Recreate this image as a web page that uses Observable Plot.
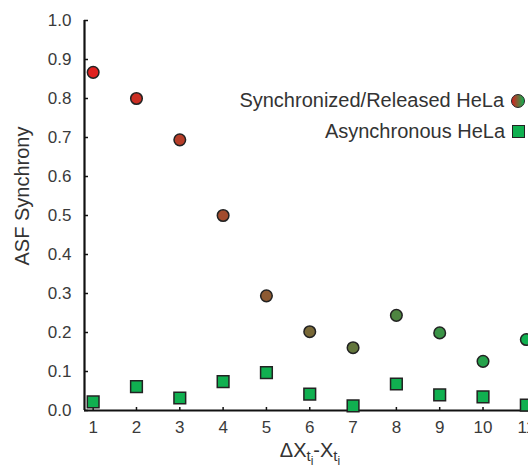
<!DOCTYPE html>
<html>
<head>
<meta charset="utf-8">
<script src="https://cdn.jsdelivr.net/npm/d3@7"></script>
<script src="https://cdn.jsdelivr.net/npm/@observablehq/plot@0.6"></script>
<style>
  html, body { margin: 0; padding: 0; background: #fff; overflow: hidden; }
  #wrap { position: relative; width: 528px; height: 468px; font-family: "Liberation Sans", Arial, sans-serif; }
  #legend { position: absolute; right: 3px; top: 85px; color: #333; font-size: 20px; text-align: right; }
  #legend .row { display: flex; align-items: center; justify-content: flex-end; height: 31px; white-space: nowrap; }
  #legend .sw { display: inline-block; flex-shrink: 0; margin-left: 7px; box-sizing: border-box; border: 1.5px solid #222; }
  #legend .circ { width: 14px; height: 14px; border-radius: 50%; background: linear-gradient(to right, #d8201e, #10b050); }
  #legend .sq { width: 13px; height: 13px; background: #10b050; }
</style>
</head>
<body>
<div id="wrap"></div>
<script>
// ---- data ----
const lags = [1, 2, 3, 4, 5, 6, 7, 8, 9, 10, 11];
const syncValues = [0.867, 0.800, 0.694, 0.500, 0.294, 0.202, 0.161, 0.244, 0.199, 0.126, 0.182];
const asyncValues = [0.022, 0.061, 0.032, 0.074, 0.097, 0.042, 0.012, 0.068, 0.040, 0.035, 0.014];
const yTicks = [0.0, 0.1, 0.2, 0.3, 0.4, 0.5, 0.6, 0.7, 0.8, 0.9, 1.0];
const xTicks = [1, 2, 3, 4, 5, 6, 7, 8, 9, 10, 11];
const seriesNames = ["Synchronized/Released HeLa", "Asynchronous HeLa"];
const yLabel = "ASF Synchrony";

const xDomain = [0.8, 11.05];
const yDomain = [0, 1];

const syncData = lags.map((x, i) => ({x, y: syncValues[i]}));
const asyncData = lags.map((x, i) => ({x, y: asyncValues[i]}));

const chart = Plot.plot({
  width: 528,
  height: 468,
  marginLeft: 84,
  marginRight: 0,
  marginTop: 20,
  marginBottom: 58,
  style: {fontFamily: "Liberation Sans, Arial, sans-serif", color: "#333", background: "#fff", overflow: "visible"},
  x: {domain: xDomain},
  y: {domain: yDomain},
  color: {type: "linear", domain: [1, 11], range: ["#e0201e", "#10b050"], interpolate: "rgb"},
  marks: [
    // tick marks (inward)
    Plot.axisY({ticks: yTicks, tickSize: -4, tickFormat: () => "", stroke: "#111", strokeWidth: 1.5, label: null}),
    Plot.axisX({ticks: xTicks, tickSize: -3, tickFormat: () => "", stroke: "#111", strokeWidth: 1.5, label: null}),
    // tick labels
    Plot.axisY({ticks: yTicks, tickSize: 0, tickPadding: 13, tickFormat: d3.format(".1f"), fontSize: 17, fill: "#3a3a3a", label: null}),
    Plot.axisX({ticks: xTicks, tickSize: 0, tickPadding: 10, fontSize: 17, fill: "#3a3a3a", label: null}),
    // axis lines
    Plot.ruleX([xDomain[0]], {y1: yDomain[0], y2: yDomain[1], stroke: "#111", strokeWidth: 2.2}),
    Plot.ruleY([yDomain[0]], {stroke: "#111", strokeWidth: 2.2}),
    // data
    Plot.dot(asyncData, {x: "x", y: "y", symbol: "square", r: 6.6, fill: "#10b050", stroke: "#222", strokeWidth: 1.5}),
    Plot.dot(syncData, {x: "x", y: "y", r: 5.8, fill: d => d.x, stroke: "#222", strokeWidth: 1.5})
  ]
});

const wrap = document.getElementById("wrap");
wrap.appendChild(chart);

// axis titles
const svg = d3.select(chart);
svg.append("text")
  .attr("transform", "translate(29,196) rotate(-90)")
  .attr("text-anchor", "middle")
  .attr("font-size", 20)
  .attr("fill", "#333")
  .text(yLabel);

const xl = svg.append("text")
  .attr("x", 310).attr("y", 457)
  .attr("text-anchor", "middle")
  .attr("font-size", 20)
  .attr("fill", "#333");
xl.append("tspan").text("\u0394X");
xl.append("tspan").attr("font-size", 15).attr("dy", 4).text("t");
xl.append("tspan").attr("font-size", 12).attr("dy", 4).text("i");
xl.append("tspan").attr("dy", -8).text("-X");
xl.append("tspan").attr("font-size", 15).attr("dy", 4).text("t");
xl.append("tspan").attr("font-size", 12).attr("dy", 4).text("i");

// legend
const legend = document.createElement("div");
legend.id = "legend";
legend.innerHTML =
  `<div class="row"><span>${seriesNames[0]}</span><span class="sw circ"></span></div>` +
  `<div class="row"><span>${seriesNames[1]}</span><span class="sw sq"></span></div>`;
wrap.appendChild(legend);
</script>
</body>
</html>
